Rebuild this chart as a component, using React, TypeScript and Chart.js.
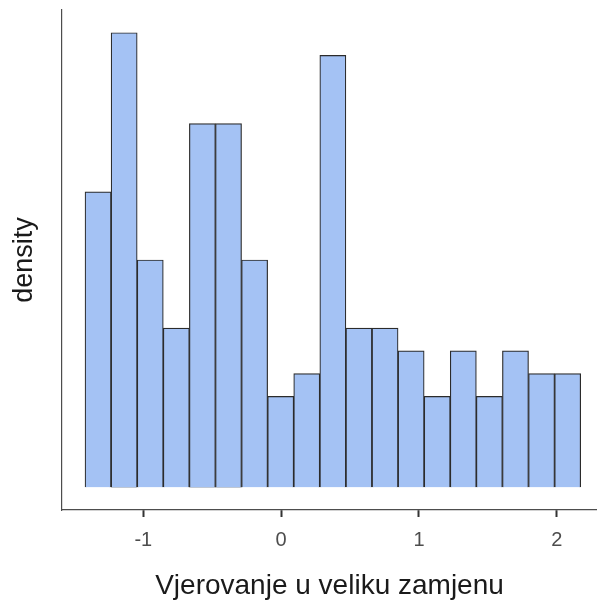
import React, { useEffect, useRef } from "react";
import { Chart, registerables } from "chart.js";

Chart.register(...registerables);

// Histogram bins (x in data units)
const binStart = -1.423;
const binWidth = 0.1893;
const counts = [13, 20, 10, 7, 16, 16, 10, 4, 5, 19, 7, 7, 6, 4, 6, 4, 6, 5, 5];
const xTicks = [-1, 0, 1, 2];
const xTitle = "Vjerovanje u veliku zamjenu";
const yTitle = "density";

const FONT = "'Liberation Sans', Arial, Helvetica, sans-serif";

export default function App() {
  const ref = useRef<HTMLCanvasElement>(null);

  useEffect(() => {
    if (!ref.current) return;
    const data = counts.map((c, i) => ({ x: binStart + binWidth * (i + 0.5), y: c }));
    const chart = new Chart(ref.current, {
      type: "bar",
      data: {
        datasets: [
          {
            data,
            backgroundColor: "#a4c2f4",
            borderColor: "#2b2b2b",
            borderWidth: 1.2,
            barPercentage: 1,
            categoryPercentage: 1,
          },
        ],
      },
      options: {
        responsive: false,
        animation: false,
        layout: { padding: { top: 10, right: 0, left: 0, bottom: 0 } },
        plugins: { legend: { display: false }, tooltip: { enabled: false } },
        scales: {
          x: {
            type: "linear",
            offset: false,
            min: -1.59,
            max: 2.292,
            afterBuildTicks: (s: any) => {
              s.ticks = xTicks.map((v) => ({ value: v, label: String(v) }));
            },
            afterFit: (s: any) => {
              s.height = 93;
            },
            grid: {
              display: true,
              offset: false,
              color: "#333333",
              drawOnChartArea: false,
              drawTicks: true,
              tickLength: 7,
              tickWidth: 2,
              tickColor: "#333333",
            },
            border: { display: true, color: "#4d4d4d", width: 1.2 },
            ticks: {
              color: "#4d4d4d",
              font: { family: FONT, size: 20 },
              padding: 11,
              maxRotation: 0,
              callback: (v: any) => String(v),
            },
            title: {
              display: true,
              text: xTitle,
              color: "#1a1a1a",
              font: { family: FONT, size: 28 },
              padding: { top: 0, bottom: 0 },
            },
          },
          y: {
            min: -1,
            max: 21,
            afterFit: (s: any) => {
              s.width = 62;
            },
            grid: { display: false },
            border: { display: true, color: "#4d4d4d", width: 1.2 },
            ticks: { display: false },
            title: {
              display: true,
              text: yTitle,
              color: "#1a1a1a",
              font: { family: FONT, size: 27 },
              padding: { top: 8, bottom: 0 },
            },
          },
        },
      },
    });
    return () => chart.destroy();
  }, []);

  return (
    <div style={{ position: "fixed", left: 0, top: 0, width: 597, height: 603, background: "#fff" }}>
      <canvas ref={ref} width={597} height={603} style={{ display: "block" }} />
    </div>
  );
}
